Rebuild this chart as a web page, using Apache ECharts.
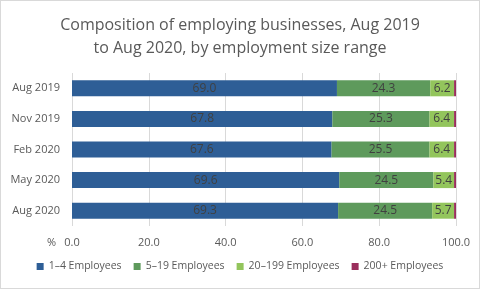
<!DOCTYPE html>
<html>
<head>
<meta charset="utf-8">
<script src="https://cdn.jsdelivr.net/npm/echarts@6/dist/echarts.min.js"></script>
<style>
  html, body { margin: 0; padding: 0; background: #fff; }
  #chart { width: 478px; height: 287px; border: 1px solid #d9d9d9; }
</style>
</head>
<body>
<div id="chart"></div>
<script>
  // 数据
  var periods = ['Aug 2019', 'Nov 2019', 'Feb 2020', 'May 2020', 'Aug 2020'];
  var seriesNames = ['1–4 Employees', '5–19 Employees', '20–199 Employees', '200+ Employees'];
  var emp1to4 = [69.0, 67.8, 67.6, 69.6, 69.3];
  var emp5to19 = [24.3, 25.3, 25.5, 24.5, 24.5];
  var emp20to199 = [6.2, 6.4, 6.4, 5.4, 5.7];
  var emp200plus = [0.5, 0.5, 0.5, 0.5, 0.5];
  var xTicks = [0, 20, 40, 60, 80, 100];

  var colors = ['#2e5e96', '#5e9a5c', '#93c55c', '#9a2e5c'];
  var textColor = '#595959';

  var chart = echarts.init(document.getElementById('chart'));

  function barSeries(name, data, showLabel) {
    return {
      name: name,
      type: 'bar',
      stack: 'total',
      data: data,
      barWidth: 16,
      label: {
        show: showLabel,
        position: 'inside',
        color: '#404040',
        fontSize: 12,
        fontFamily: 'Open Sans',
        formatter: function (p) { return p.value.toFixed(1); }
      }
    };
  }

  chart.setOption({
    color: colors,
    animation: false,
    title: {
      text: 'Composition of employing businesses, Aug 2019\nto Aug 2020, by employment size range',
      left: 'center',
      top: 8,
      textStyle: {
        color: textColor,
        fontSize: 16,
        fontWeight: 'normal',
        fontFamily: 'Open Sans',
        lineHeight: 23
      }
    },
    legend: {
      bottom: 11,
      left: 'center',
      itemWidth: 7,
      itemHeight: 7,
      itemGap: 12,
      itemStyle: { borderWidth: 0 },
      icon: 'rect',
      textStyle: { color: textColor, fontSize: 10.5, fontFamily: 'Open Sans' },
      data: seriesNames
    },
    grid: {
      left: 71,
      right: 23,
      top: 72,
      bottom: 62,
      containLabel: false
    },
    xAxis: {
      type: 'value',
      min: 0,
      max: 100,
      interval: 20,
      axisLine: { show: false },
      axisTick: { show: false },
      splitLine: { lineStyle: { color: '#d9d9d9' } },
      axisLabel: {
        color: textColor,
        fontSize: 11,
        fontFamily: 'Open Sans',
        margin: 11,
        formatter: function (v) { return xTicks.indexOf(v) >= 0 ? v.toFixed(1) : ''; }
      }
    },
    yAxis: {
      type: 'category',
      inverse: true,
      data: periods,
      axisLine: { show: false },
      axisTick: { show: false },
      axisLabel: { color: textColor, fontSize: 11, fontFamily: 'Open Sans', margin: 12 }
    },
    graphic: [{
      type: 'text',
      left: 46,
      top: 236,
      style: { text: '%', fill: textColor, fontSize: 11, fontFamily: 'Open Sans' }
    }],
    series: [
      barSeries(seriesNames[0], emp1to4, true),
      barSeries(seriesNames[1], emp5to19, true),
      barSeries(seriesNames[2], emp20to199, true),
      barSeries(seriesNames[3], emp200plus, false)
    ]
  });
</script>
</body>
</html>
